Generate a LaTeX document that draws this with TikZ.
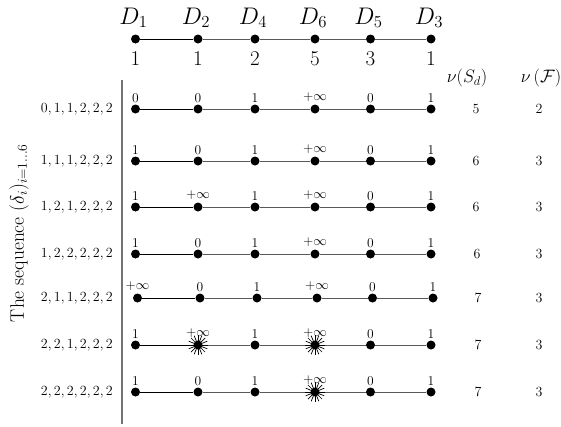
\RequirePackage{fix-cm}
\documentclass[tikz,border=0pt]{standalone}
\usepackage{fontspec}
\newcommand\pinf{\raisebox{2pt}{$+\infty$}}
\newcommand\rowdots[3]{%
  \foreach \c/\x in {1/135.5,2/198,3/255,4/315,5/370.5,6/431}
    {\node[dot] (r#1c\c) at (\x+#3,#2) {};}
  \draw[firstseg] (r#1c1) -- (r#1c2);
  \draw[seg] (r#1c2) -- (r#1c3) -- (r#1c4) -- (r#1c5) -- (r#1c6);
}
\newcommand\rowlabels[7]{%
  \node[vlab] (v#1a) at ([yshift=7pt]r#1c1.center) {#2};
  \node[vlab] (v#1b) at ([yshift=7pt]r#1c2.center) {#3};
  \node[vlab] (v#1c) at ([yshift=7pt]r#1c3.center) {#4};
  \node[vlab] (v#1d) at ([yshift=7pt]r#1c4.center) {#5};
  \node[vlab] (v#1e) at ([yshift=7pt]r#1c5.center) {#6};
  \node[vlab] (v#1f) at ([yshift=7pt]r#1c6.center) {#7};
}
\newcommand\starat[1]{%
  \foreach \a in {0,22.5,...,337.5}
    \draw[spoke] (#1.center) -- ++(\a:10pt);
}
\begin{document}
\begin{tikzpicture}[x=1pt,y=-1pt,
  dot/.style={circle,fill=black,inner sep=0pt,minimum size=9pt},
  seg/.style={line width=1pt,black!65},
  firstseg/.style={line width=0.8pt,black},
  vlab/.style={font=\fontsize{13.5}{15}\selectfont,inner sep=0pt,anchor=base},
  seqlab/.style={font=\fontsize{14}{16}\selectfont,inner sep=0pt,anchor=east},
  dlab/.style={font=\fontsize{24}{27}\selectfont,inner sep=0pt,anchor=base},
  numlab/.style={font=\fontsize{21}{23}\selectfont,inner sep=0pt,anchor=base},
  nulab/.style={font=\fontsize{18}{20}\selectfont,inner sep=0pt},
  vallab/.style={font=\fontsize{14}{16}\selectfont,inner sep=0pt},
  vline/.style={line width=1.4pt,black!55},
  spoke/.style={line width=0.7pt,black},
  sidelab/.style={font=\fontsize{19.5}{22}\selectfont,inner sep=0pt,rotate=90}]
\useasboundingbox (0,0) rectangle (561,426);

% top row
\rowdots{0}{39}{0}
\node[dlab] (D1) at ([xshift=-2pt,yshift=15pt]r0c1.center) {$D_1$};
\node[dlab] (D2) at ([xshift=-2pt,yshift=15pt]r0c2.center) {$D_2$};
\node[dlab] (D4) at ([xshift=-2pt,yshift=15pt]r0c3.center) {$D_4$};
\node[dlab] (D6) at ([xshift=-2pt,yshift=15pt]r0c4.center) {$D_6$};
\node[dlab] (D5) at ([xshift=-2pt,yshift=15pt]r0c5.center) {$D_5$};
\node[dlab] (D3) at ([xshift=-2pt,yshift=15pt]r0c6.center) {$D_3$};
\node[numlab] (n1) at ([yshift=-26pt]r0c1.center) {$1$};
\node[numlab] (n2) at ([yshift=-26pt]r0c2.center) {$1$};
\node[numlab] (n3) at ([yshift=-26pt]r0c3.center) {$2$};
\node[numlab] (n4) at ([yshift=-26pt]r0c4.center) {$5$};
\node[numlab] (n5) at ([yshift=-26pt]r0c5.center) {$3$};
\node[numlab] (n6) at ([yshift=-26pt]r0c6.center) {$1$};

% column heads
\node[nulab] (hS) at (467,78) {$\nu(S_d)$};
\node[nulab] (hF) at (541,78) {$\nu\left(\mathcal{F}\right)$};

% vertical rule and side label
\coordinate (vt) at (122,80);
\coordinate (vb) at (122,424);
\draw[vline] (vt) -- (vb);
\node[sidelab] (side) at (19,233) {The sequence $(\delta_i)_{i=1\ldots6}$};

% row 1
\rowdots{1}{109}{0}
\rowlabels{1}{$0$}{$0$}{$1$}{\pinf}{$0$}{$1$}
\node[seqlab] (s1) at (113,109) {$0,1,1,2,2,2$};
\node[vallab] (a1) at (476,109) {$5$};
\node[vallab] (b1) at (539,109) {$2$};

% row 2
\rowdots{2}{161}{0}
\rowlabels{2}{$1$}{$0$}{$1$}{\pinf}{$0$}{$1$}
\node[seqlab] (s2) at (113,161) {$1,1,1,2,2,2$};
\node[vallab] (a2) at (476,161) {$6$};
\node[vallab] (b2) at (539,161) {$3$};

% row 3
\rowdots{3}{207}{0}
\rowlabels{3}{$1$}{\pinf}{$1$}{\pinf}{$0$}{$1$}
\node[seqlab] (s3) at (113,207) {$1,2,1,2,2,2$};
\node[vallab] (a3) at (476,207) {$6$};
\node[vallab] (b3) at (539,207) {$3$};

% row 4
\rowdots{4}{254}{0}
\rowlabels{4}{$1$}{$0$}{$1$}{\pinf}{$0$}{$1$}
\node[seqlab] (s4) at (113,254) {$1,2,2,2,2,2$};
\node[vallab] (a4) at (477,254) {$6$};
\node[vallab] (b4) at (539,254) {$3$};

% row 5
\rowdots{5}{298}{2}
\rowlabels{5}{\pinf}{$0$}{$1$}{\pinf}{$0$}{$1$}
\node[seqlab] (s5) at (113,298) {$2,1,1,2,2,2$};
\node[vallab] (a5) at (478,298) {$7$};
\node[vallab] (b5) at (539,298) {$3$};

% row 6
\rowdots{6}{345}{0}
\rowlabels{6}{$1$}{\pinf}{$1$}{\pinf}{$0$}{$1$}
\node[seqlab] (s6) at (113,345) {$2,2,1,2,2,2$};
\node[vallab] (a6) at (478,345) {$7$};
\node[vallab] (b6) at (539,345) {$3$};
\starat{r6c2}
\starat{r6c4}

% row 7
\rowdots{7}{392}{0}
\rowlabels{7}{$1$}{$0$}{$1$}{\pinf}{$0$}{$1$}
\node[seqlab] (s7) at (113,392) {$2,2,2,2,2,2$};
\node[vallab] (a7) at (478,392) {$7$};
\node[vallab] (b7) at (539,392) {$3$};
\starat{r7c4}
\end{tikzpicture}
\end{document}
